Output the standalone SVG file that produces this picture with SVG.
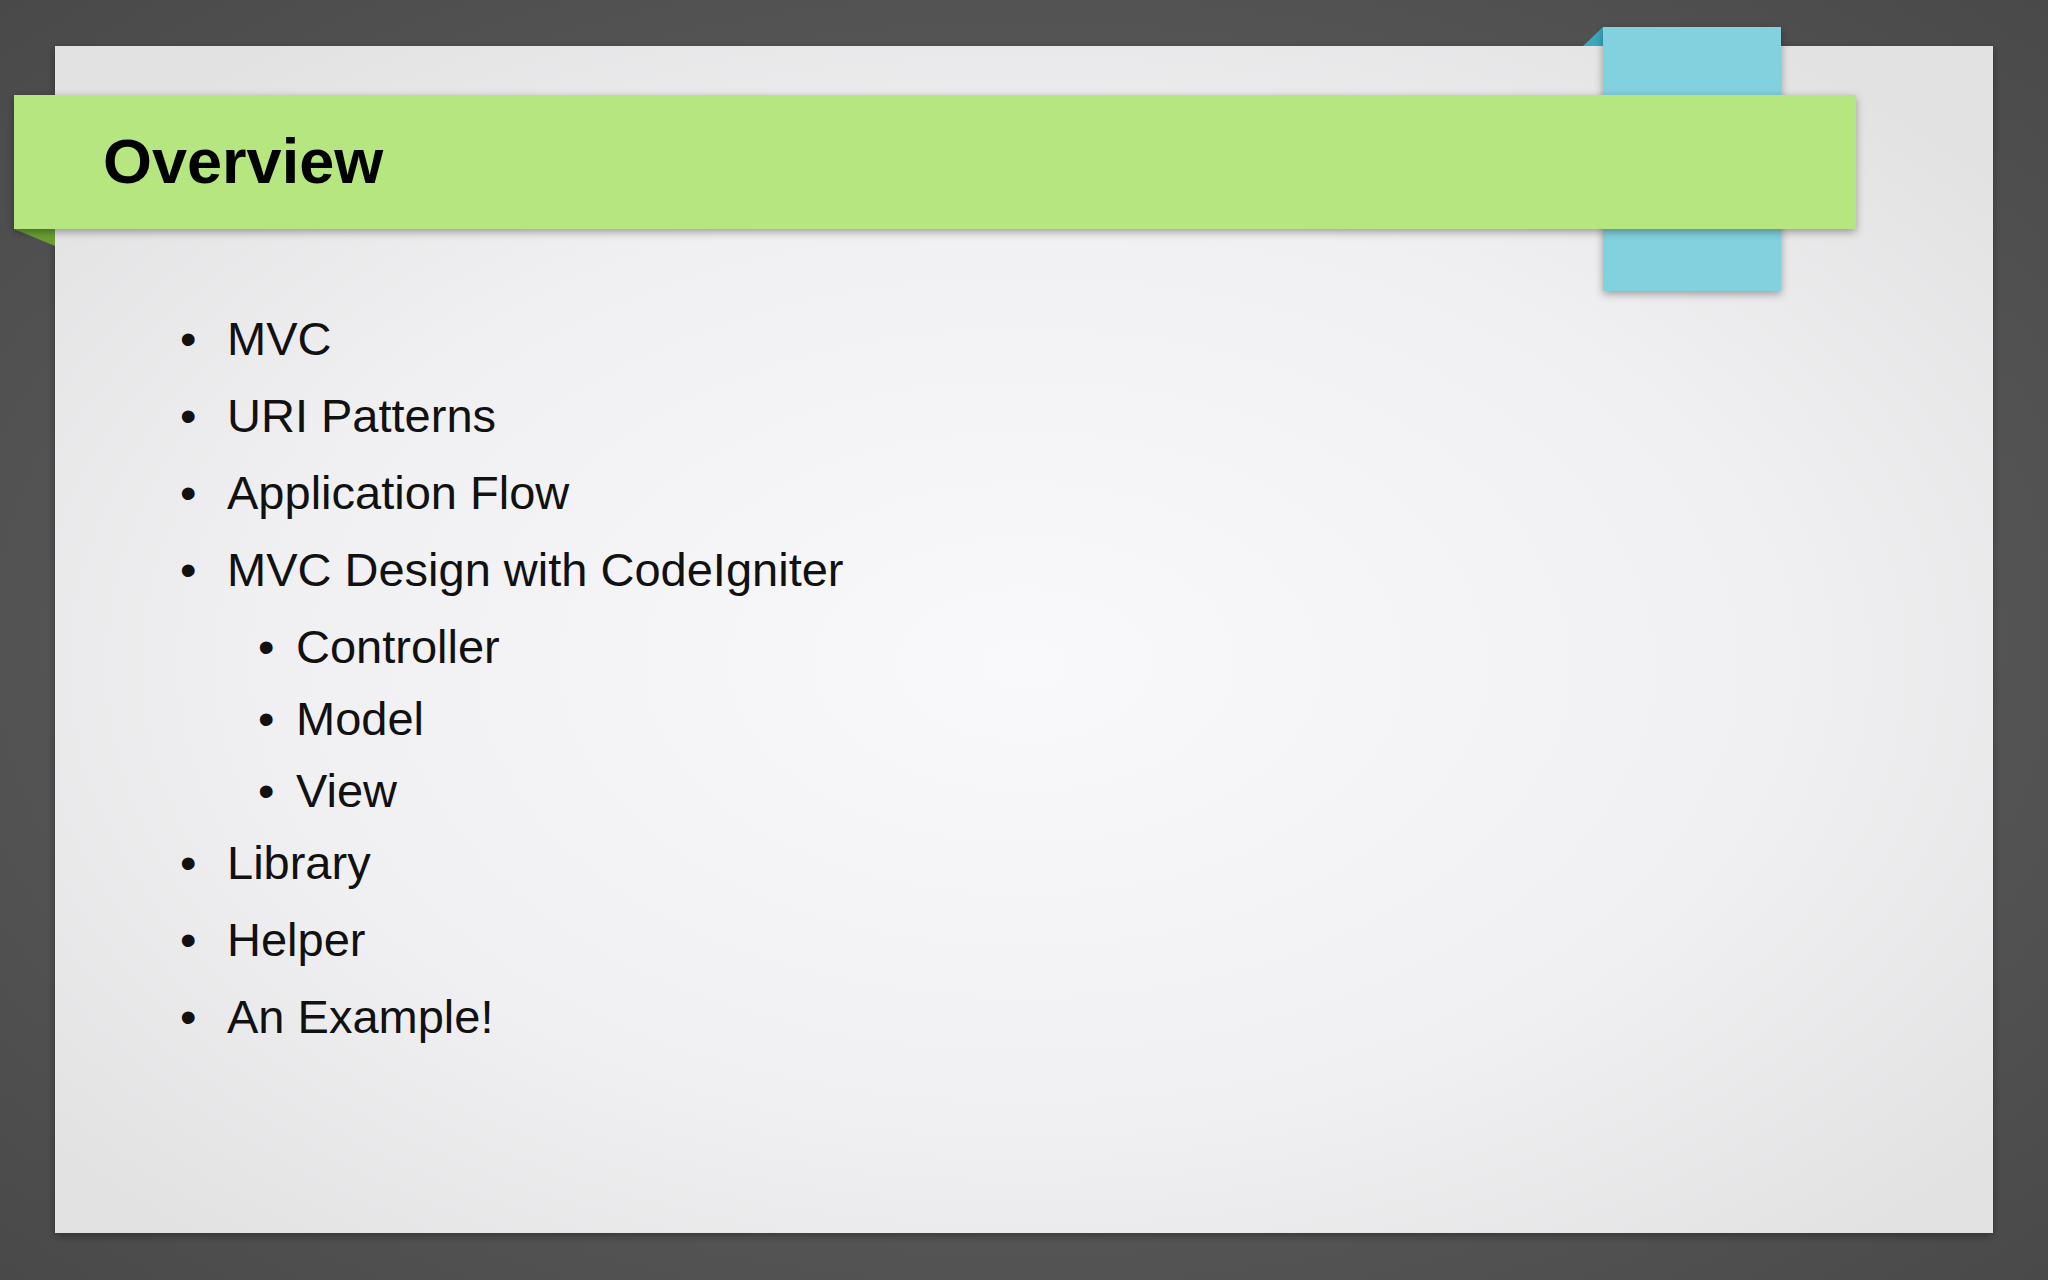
<svg xmlns="http://www.w3.org/2000/svg" width="2048" height="1280" viewBox="0 0 2048 1280">
<defs>
<radialGradient id="bg" cx="50%" cy="50%" r="75%"><stop offset="0" stop-color="#6a6a6a"/><stop offset="1" stop-color="#474747"/></radialGradient>
<radialGradient id="sl" cx="50%" cy="52%" r="65%"><stop offset="0" stop-color="#f9f8fa"/><stop offset="0.6" stop-color="#f0eff1"/><stop offset="1" stop-color="#e2e2e3"/></radialGradient>
<filter id="sh" x="-5%" y="-5%" width="110%" height="120%"><feDropShadow dx="0" dy="3" stdDeviation="4" flood-opacity="0.35"/></filter>
<style>
.b{font-family:"Liberation Sans",Arial,sans-serif;font-size:47px;fill:#111}
.t{font-family:"Liberation Sans",Arial,sans-serif;font-size:63px;font-weight:bold;fill:#000}
</style>
</defs>
<rect width="2048" height="1280" fill="url(#bg)"/>
<rect x="55" y="46" width="1938" height="1187" fill="url(#sl)" filter="url(#sh)"/>
<g id="tab">
<polygon points="1583,46 1603,27 1603,46" fill="#3aa9bd"/>
<rect x="1603" y="27" width="178" height="264" fill="#82d1de" filter="url(#sh)"/>
</g>
<g id="banner">
<polygon points="14,229 55,229 55,246" fill="#6a9f35"/>
<rect x="14" y="95" width="1842" height="134" fill="#b5e67f" filter="url(#sh)"/>
<text class="t" x="103" y="183">Overview</text>
</g>
<g id="bullets">
<g class="b">
<text x="180" y="355">•</text><text x="227" y="355">MVC</text>
<text x="180" y="432">•</text><text x="227" y="432">URI Patterns</text>
<text x="180" y="509">•</text><text x="227" y="509">Application Flow</text>
<text x="180" y="586">•</text><text x="227" y="586">MVC Design with CodeIgniter</text>
<text x="258" y="663">•</text><text x="296" y="663">Controller</text>
<text x="258" y="735">•</text><text x="296" y="735">Model</text>
<text x="258" y="807">•</text><text x="296" y="807">View</text>
<text x="180" y="879">•</text><text x="227" y="879">Library</text>
<text x="180" y="956">•</text><text x="227" y="956">Helper</text>
<text x="180" y="1033">•</text><text x="227" y="1033">An Example!</text>
</g>
</g>
</svg>
